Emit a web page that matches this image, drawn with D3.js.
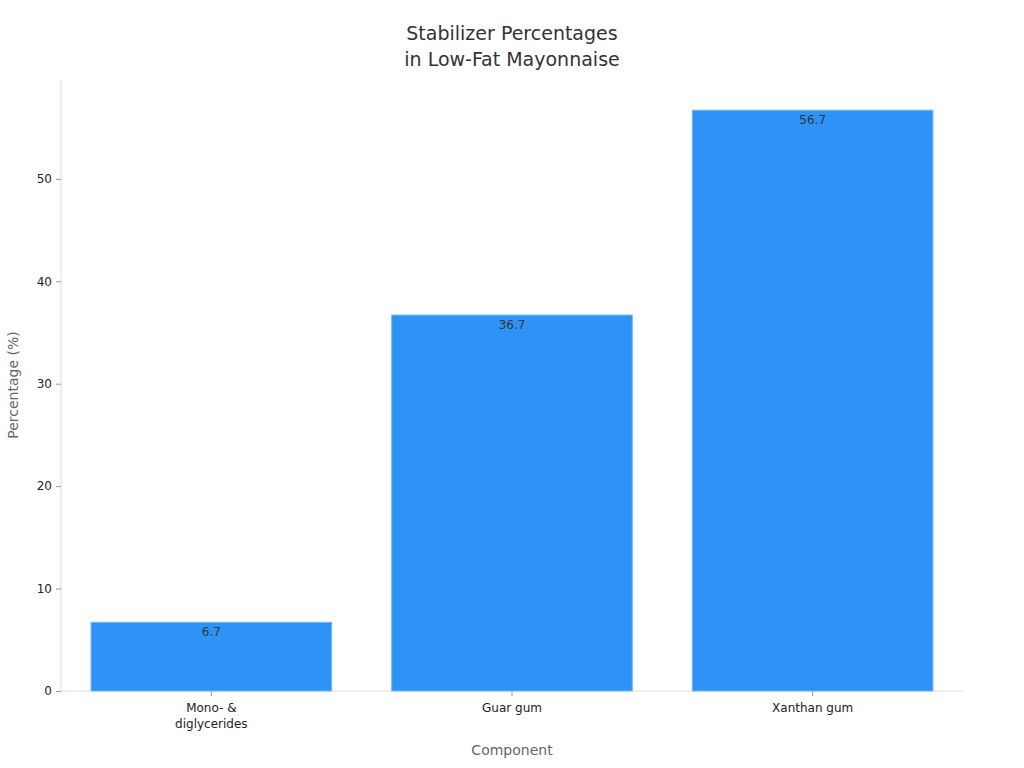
<!DOCTYPE html><html><head><meta charset="utf-8">
<script src="https://cdn.jsdelivr.net/npm/d3@7/dist/d3.min.js"></script>
<style>body{margin:0;background:#fff}text{font-family:"DejaVu Sans",sans-serif}</style></head><body>
<svg id="c" width="1024" height="768"></svg>
<script>
const categories=[["Mono- &","diglycerides"],["Guar gum"],["Xanthan gum"]];
const values=[6.7,36.7,56.7];
const yTicks=[0,10,20,30,40,50];
const svg=d3.select("#c");
const m={l:61,r:963,t:80,b:691};
const x=d3.scaleBand().domain(d3.range(values.length)).range([m.l,m.r]).paddingInner(0.2).paddingOuter(0.1);
const y=d3.scaleLinear().domain([0,59.65]).range([m.b,m.t]);
svg.append("line").attr("x1",m.l).attr("x2",m.l).attr("y1",m.t).attr("y2",m.b).attr("stroke","#ddd");
svg.append("line").attr("x1",m.l).attr("x2",m.r).attr("y1",m.b).attr("y2",m.b).attr("stroke","#ddd");
const ya=svg.append("g").attr("transform",`translate(${m.l},0)`).call(d3.axisLeft(y).tickValues(yTicks).tickSize(5).tickPadding(4));
ya.select(".domain").remove();ya.selectAll("line").attr("stroke","#999");
ya.selectAll("text").attr("font-size",12).attr("fill","#222");
svg.selectAll("rect.b").data(values).enter().append("rect").attr("x",(d,i)=>x(i)).attr("width",x.bandwidth())
 .attr("y",d=>y(d)).attr("height",d=>m.b-y(d)).attr("fill","#2E93F7").attr("stroke","#6fb4f9").attr("stroke-width",1);
svg.selectAll("text.v").data(values).enter().append("text").attr("x",(d,i)=>x(i)+x.bandwidth()/2).attr("y",d=>y(d)+14)
 .attr("text-anchor","middle").attr("font-size",12).attr("fill","#333").text(d=>d.toFixed(1));
categories.forEach((c,i)=>{c.forEach((s,j)=>svg.append("text").attr("x",x(i)+x.bandwidth()/2).attr("y",712+j*16)
 .attr("text-anchor","middle").attr("font-size",12).attr("fill","#222").text(s));
 svg.append("line").attr("x1",x(i)+x.bandwidth()/2).attr("x2",x(i)+x.bandwidth()/2).attr("y1",m.b).attr("y2",m.b+5).attr("stroke","#999");});
svg.append("text").attr("x",512).attr("y",755).attr("text-anchor","middle").attr("font-size",14).attr("fill","#666").text("Component");
svg.append("text").attr("transform","translate(18,385) rotate(-90)").attr("text-anchor","middle").attr("font-size",14).attr("fill","#666").text("Percentage (%)");
["Stabilizer Percentages","in Low-Fat Mayonnaise"].forEach((s,i)=>svg.append("text").attr("x",512).attr("y",40+i*26)
 .attr("text-anchor","middle").attr("font-size",19).attr("fill","#333").text(s));
</script></body></html>
